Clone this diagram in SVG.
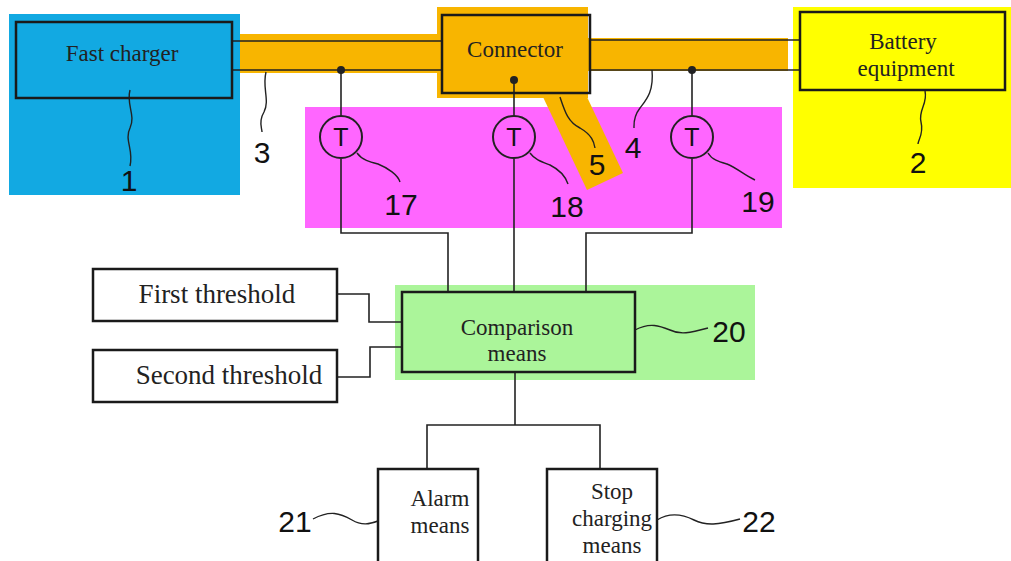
<svg xmlns="http://www.w3.org/2000/svg" width="1011" height="561" viewBox="0 0 1011 561">
<style>
.box{fill:none;stroke:#1a1a1a;stroke-width:2.5}
.w{fill:none;stroke:#222;stroke-width:1.6}
.lead{fill:none;stroke:#222;stroke-width:1.4}
.t{font-family:"Liberation Serif",serif;font-size:23px;fill:#222;text-anchor:middle}
.th{font-family:"Liberation Serif",serif;font-size:27px;fill:#222;text-anchor:middle}
.n{font-family:"Liberation Sans",Arial,sans-serif;font-size:30px;fill:#111;text-anchor:middle}
.tt{font-family:"Liberation Sans",Arial,sans-serif;font-size:25px;fill:#111;text-anchor:middle}
</style>
<!-- backgrounds -->
<rect x="9" y="14" width="231" height="181" fill="#12a9e2"/>
<rect x="793" y="7" width="218" height="181" fill="#ffff00"/>
<rect x="305" y="107" width="477" height="121" fill="#ff66ff"/>
<rect x="395" y="285" width="360" height="95" fill="#abf59a"/>
<rect x="240" y="34" width="200" height="39" fill="#f8b500"/>
<rect x="437" y="7" width="151" height="91" fill="#f8b500"/>
<rect x="588" y="38" width="200" height="33" fill="#f8b500"/>
<polygon points="543,97 587,97 623,173 587,190" fill="#f8b500"/>

<g id="connectors">
<line class="w" x1="232" y1="41" x2="442" y2="41"/>
<line class="w" x1="232" y1="70" x2="442" y2="70"/>
<line class="w" x1="590" y1="40" x2="800" y2="40"/>
<line class="w" x1="590" y1="70" x2="800" y2="70"/>
<circle cx="341" cy="70" r="4" fill="#222"/>
<circle cx="692" cy="70" r="4" fill="#222"/>
<circle cx="514" cy="80" r="4" fill="#222"/>
<line class="w" x1="341" y1="70" x2="341" y2="117"/>
<line class="w" x1="514" y1="80" x2="514" y2="117"/>
<line class="w" x1="692" y1="70" x2="692" y2="117"/>
<polyline class="w" points="341,159 341,233 448,233 448,292"/>
<line class="w" x1="514" y1="159" x2="514" y2="292"/>
<polyline class="w" points="692,159 692,233 586,233 586,292"/>
<polyline class="w" points="337,294 369,294 369,322 402,322"/>
<polyline class="w" points="337,377 370,377 370,347 402,347"/>
<polyline class="w" points="515,372 515,425"/>
<polyline class="w" points="427,469 427,425 600,425 600,469"/>
<!-- leaders -->
<path class="lead" d="M130,90 C126,105 136,115 130,128 C124,140 134,150 130,166"/>
<path class="lead" d="M266,72 C262,88 270,100 264,112 C258,122 262,128 262,132"/>
<path class="lead" d="M652,70 C654,92 646,100 640,108 C633,117 634,124 634,128"/>
<path class="lead" d="M560,97 C565,112 568,122 580,128 C592,135 594,142 595,148"/>
<path class="lead" d="M925,91 C928,104 918,110 921,122 C924,134 918,140 918,144"/>
<path class="lead" d="M357,153 C362,160 370,162 378,164 C388,168 398,175 400,182"/>
<path class="lead" d="M530,153 C535,160 542,162 550,165 C560,170 566,178 568,184"/>
<path class="lead" d="M708,153 C712,160 720,162 727,164 C737,168 744,175 755,180"/>
<path class="lead" d="M635,330 C650,322 660,326 670,330 C680,335 690,333 708,328"/>
<path class="lead" d="M313,519 C330,510 340,513 352,520 C362,526 370,524 378,521"/>
<path class="lead" d="M657,520 C670,512 682,514 694,520 C706,526 718,525 740,519"/>
</g>

<g id="n1"><rect class="box" x="16" y="22" width="216" height="76"/><text class="t" x="122" y="61">Fast charger</text><text class="n" x="129" y="191">1</text></g>
<g id="n5"><rect class="box" x="442" y="15" width="148" height="78"/><text class="t" x="515" y="57">Connector</text></g>
<g id="n2"><rect class="box" x="800" y="12" width="205" height="78"/><text class="t" x="903" y="49">Battery</text><text class="t" x="906" y="76">equipment</text><text class="n" x="918" y="173">2</text></g>
<g id="n3"><text class="n" x="262" y="163">3</text></g>
<g id="n4"><text class="n" x="633" y="158">4</text></g>
<g id="n5l"><text class="n" x="597" y="175">5</text></g>
<g id="n17"><circle cx="341" cy="137" r="21" fill="none" stroke="#222" stroke-width="2"/><text class="tt" x="341" y="146">T</text><text class="n" x="401" y="215">17</text></g>
<g id="n18"><circle cx="514" cy="137" r="21" fill="none" stroke="#222" stroke-width="2"/><text class="tt" x="514" y="146">T</text><text class="n" x="567" y="217">18</text></g>
<g id="n19"><circle cx="692" cy="137" r="21" fill="none" stroke="#222" stroke-width="2"/><text class="tt" x="692" y="146">T</text><text class="n" x="758" y="212">19</text></g>
<g id="n20"><rect class="box" x="402" y="292" width="233" height="80"/><text class="t" x="517" y="335">Comparison</text><text class="t" x="517" y="361">means</text><text class="n" x="729" y="342">20</text></g>
<g id="first"><rect class="box" x="93" y="269" width="244" height="52"/><text class="th" x="217" y="303">First threshold</text></g>
<g id="second"><rect class="box" x="93" y="350" width="244" height="52"/><text class="th" x="229" y="384">Second threshold</text></g>
<g id="n21"><rect class="box" x="378" y="469" width="100" height="100"/><text class="t" x="440" y="506">Alarm</text><text class="t" x="440" y="533">means</text><text class="n" x="295" y="532">21</text></g>
<g id="n22"><rect class="box" x="547" y="469" width="110" height="100"/><text class="t" x="612" y="499">Stop</text><text class="t" x="612" y="526">charging</text><text class="t" x="612" y="553">means</text><text class="n" x="759" y="532">22</text></g>
</svg>
